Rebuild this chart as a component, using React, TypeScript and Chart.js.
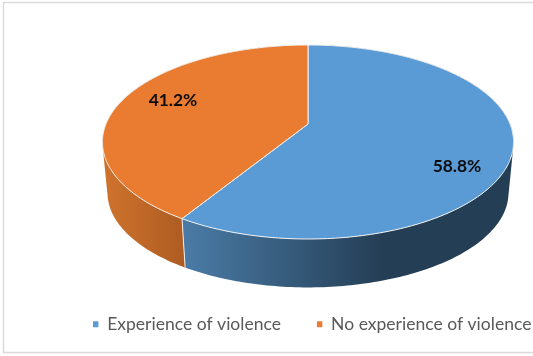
import React, { useEffect, useRef } from "react";
import { Chart, registerables } from "chart.js";

Chart.register(...registerables);

const categories = ["Experience of violence", "No experience of violence"];
const shares = [58.8, 41.2];
const topColors = ["#5b9bd5", "#e97c30"];
const wallStops = [
  [[0.345, "#4a7ba6"], [0.72, "#243e55"]],
  [[0.19, "#d0742e"], [0.345, "#ae5c22"]],
];
const labelSpots = [
  [457, 166],
  [173, 100],
];

const W = 533;
const H = 356;
const CX = 308;
const P = 0.1856;

type Face = { y0: number; a: number; b: number };
const TOP: Face = { y0: 124, a: 93.66, b: 202 };
const BASE: Face = { y0: 175.3, a: 91.3, b: 197 };

// Chart.js angles start at -PI/2 for the top of the pie and grow clockwise.
function project(face: Face, angle: number) {
  const u = Math.cos(angle);
  const v = -Math.sin(angle);
  const d = 1 + P * v;
  return { x: CX + (face.b * u) / d, y: face.y0 - (face.a * v) / d };
}

function traceRim(ctx: CanvasRenderingContext2D, face: Face, a0: number, a1: number) {
  const steps = Math.max(2, Math.ceil(Math.abs(a1 - a0) * 90));
  for (let i = 0; i <= steps; i++) {
    const p = project(face, a0 + ((a1 - a0) * i) / steps);
    ctx.lineTo(p.x, p.y);
  }
}

const pie3d = {
  id: "pie3d",
  beforeDraw(chart: any) {
    const ctx: CanvasRenderingContext2D = chart.ctx;
    ctx.save();
    ctx.fillStyle = "#ffffff";
    ctx.fillRect(0, 0, W, H);
    ctx.strokeStyle = "#d9d9d9";
    ctx.lineWidth = 1.4;
    ctx.beginPath();
    ctx.moveTo(W, 2.5);
    ctx.lineTo(3.5, 2.5);
    ctx.lineTo(3.5, 352.5);
    ctx.lineTo(W, 352.5);
    ctx.stroke();
    ctx.restore();
  },
  beforeDatasetDraw(chart: any, args: any) {
    const ctx: CanvasRenderingContext2D = chart.ctx;
    const arcs = chart.getDatasetMeta(args.index).data;
    ctx.save();
    // side walls: one path of thin strips, all wound the same way so that they add up
    arcs.forEach((arc: any, i: number) => {
      const { startAngle, endAngle } = arc.getProps(["startAngle", "endAngle"], true);
      const grad = ctx.createLinearGradient(0, 0, W, 0);
      wallStops[i].forEach(([o, c]: any) => grad.addColorStop(o, c));
      ctx.fillStyle = grad;
      const steps = Math.ceil((endAngle - startAngle) * 60);
      ctx.beginPath();
      for (let s = 0; s < steps; s++) {
        const a0 = startAngle + ((endAngle - startAngle) * s) / steps;
        const a1 = startAngle + ((endAngle - startAngle) * (s + 1)) / steps;
        const quad = [project(TOP, a0), project(TOP, a1), project(BASE, a1), project(BASE, a0)];
        let area = 0;
        quad.forEach((p, k) => {
          const q = quad[(k + 1) % 4];
          area += p.x * q.y - q.x * p.y;
        });
        if (area < 0) quad.reverse();
        quad.forEach((p, k) => (k === 0 ? ctx.moveTo(p.x, p.y) : ctx.lineTo(p.x, p.y)));
        ctx.closePath();
      }
      ctx.fill();
    });
    // separators on the wall at the visible slice boundary
    arcs.forEach((arc: any) => {
      const { endAngle } = arc.getProps(["endAngle"], true);
      const t = project(TOP, endAngle);
      const b = project(BASE, endAngle);
      if (t.y > TOP.y0 + 40) {
        ctx.beginPath();
        ctx.moveTo(t.x, t.y);
        ctx.lineTo(b.x, b.y);
        ctx.strokeStyle = "rgba(255,255,255,0.85)";
        ctx.lineWidth = 1;
        ctx.stroke();
      }
    });
    // top faces
    arcs.forEach((arc: any, i: number) => {
      const { startAngle, endAngle } = arc.getProps(["startAngle", "endAngle"], true);
      ctx.beginPath();
      ctx.moveTo(CX, TOP.y0);
      traceRim(ctx, TOP, startAngle, endAngle);
      ctx.closePath();
      ctx.fillStyle = topColors[i];
      ctx.fill();
      ctx.strokeStyle = "#f4f4f4";
      ctx.lineWidth = 1;
      ctx.lineJoin = "round";
      ctx.stroke();
    });
    ctx.restore();
    return false;
  },
  afterDatasetsDraw(chart: any) {
    const ctx: CanvasRenderingContext2D = chart.ctx;
    ctx.save();
    ctx.font = 'bold 17.4px Lato, "Open Sans", sans-serif';
    ctx.fillStyle = "#0d0d0d";
    ctx.textAlign = "center";
    ctx.textBaseline = "middle";
    shares.forEach((v, i) => {
      ctx.fillText(v.toFixed(1) + "%", labelSpots[i][0], labelSpots[i][1]);
    });
    ctx.restore();
  },
};

export default function App() {
  const ref = useRef<HTMLCanvasElement>(null);
  useEffect(() => {
    const chart = new Chart(ref.current!, {
      type: "pie",
      data: {
        labels: categories,
        datasets: [{ data: shares, backgroundColor: topColors, borderWidth: 0 }],
      },
      options: {
        responsive: false,
        animation: false,
        events: [],
        layout: { padding: { left: 57, right: -40, bottom: 13 } },
        plugins: {
          tooltip: { enabled: false },
          legend: {
            position: "bottom",
            align: "start",
            labels: {
              usePointStyle: true,
              pointStyle: "rect",
              pointStyleWidth: 5.4,
              boxWidth: 7,
              boxHeight: 6,
              padding: 36,
              color: "#595959",
              font: { family: 'Lato, "Open Sans", sans-serif', size: 17.55 },
            },
          },
        },
      },
      plugins: [pie3d],
    } as any);
    return () => chart.destroy();
  }, []);
  return (
    <div style={{ position: "absolute", left: 0, top: 0, width: W, height: H }}>
      <canvas ref={ref} width={W} height={H} style={{ display: "block" }} />
    </div>
  );
}
